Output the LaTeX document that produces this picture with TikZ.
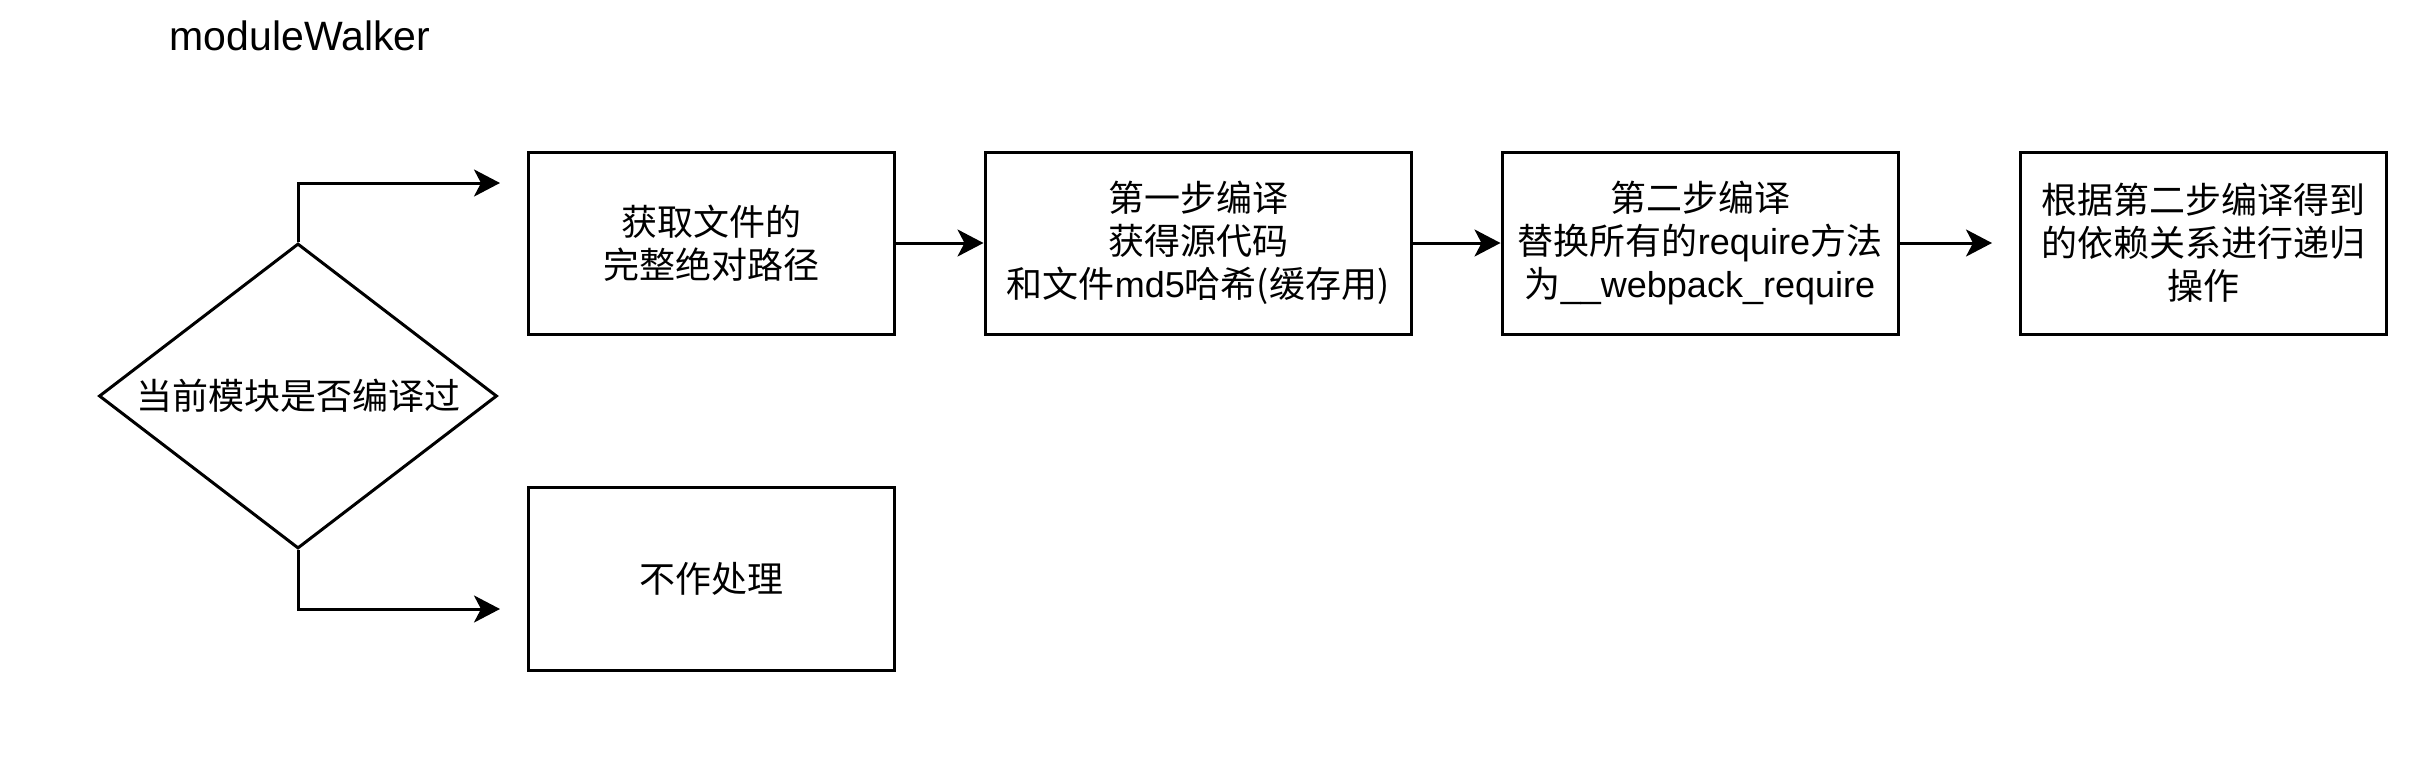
\documentclass[tikz,border=0pt]{standalone}
\usepackage{fontspec}
\setmainfont{Liberation Sans}
\newfontfamily\cjk{Noto Sans CJK SC}
\newcommand\zh[1]{{\cjk #1}}
\usetikzlibrary{shapes.geometric,arrows.meta}
\begin{document}
\begin{tikzpicture}[x=1pt,y=-1pt,
  every node/.style={inner sep=0pt,font=\fontsize{36}{43}\selectfont,align=center},
  stepbox/.style={draw,line width=3pt,rectangle,minimum height=182pt},
  decision/.style={draw,line width=3pt,diamond,aspect=1.305,minimum width=398pt,minimum height=305pt},
  arr/.style={line width=3pt,-{Stealth[length=26pt,width=27pt,inset=7pt]}},
  titletext/.style={font=\fontsize{41}{48}\selectfont}]
\useasboundingbox (0,0) rectangle (2416,780);
\node[titletext] (title) at (300,36) {moduleWalker};
\node[decision] (d) at (298,396) {\zh{当前模块是否编译过}};
\node[stepbox,minimum width=366pt] (b1) at (711,243) {\zh{获取文件的}\\\zh{完整绝对路径}};
\node[stepbox,minimum width=426pt] (b2) at (1198,243) {\zh{第一步编译}\\\zh{获得源代码}\\\zh{和文件}md5\zh{哈希(缓存用)}};
\node[stepbox,minimum width=396pt] (b3) at (1700,243) {\zh{第二步编译}\\\zh{替换所有的}require\zh{方法}\\\zh{为}\_\_webpack\_require};
\node[stepbox,minimum width=366pt] (b4) at (2203,243) {\zh{根据第二步编译得到}\\\zh{的依赖关系进行递归}\\\zh{操作}};
\node[stepbox,minimum width=366pt,minimum height=183pt] (b5) at (711,579) {\zh{不作处理}};
\coordinate (t1) at (500,183);
\coordinate (t2) at (500,609);
\coordinate (t3) at (1992,243);
\draw[arr] (d.north) |- (t1);
\draw[arr] (d.south) |- (t2);
\draw[arr] (b1.east) -- (b2.west);
\draw[arr] (b2.east) -- (b3.west);
\draw[arr] (b3.east) -- (t3);
\end{tikzpicture}
\end{document}
